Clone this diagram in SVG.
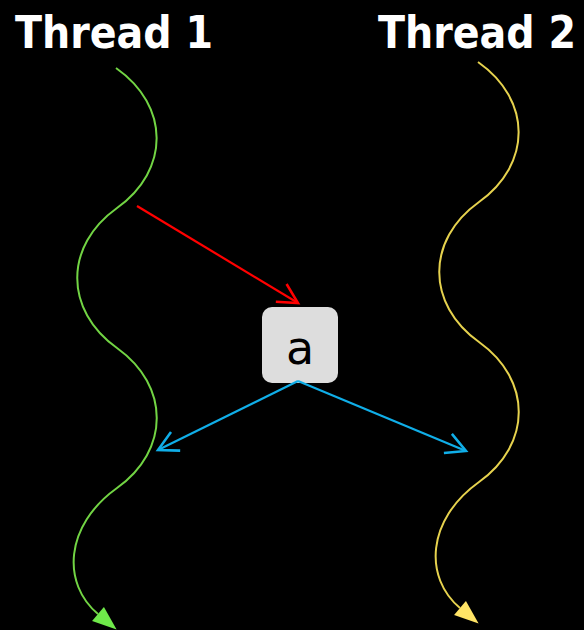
<svg xmlns="http://www.w3.org/2000/svg" width="584" height="630" viewBox="0 0 584 630">
<style>
.title{font-family:"DejaVu Sans Condensed","DejaVu Sans",sans-serif;font-weight:bold;font-size:44px;fill:#ffffff}
.wave{fill:none;stroke-width:2}
.conn{fill:none;stroke-width:2.2}
</style>
<defs>
<marker id="triG" markerUnits="userSpaceOnUse" markerWidth="30" markerHeight="30" viewBox="-2 -12 26 24" refX="0" refY="0" orient="auto">
<path d="M0,-8 L21,0 L0,8 Z" fill="#6fe84a"/>
</marker>
<marker id="triY" markerUnits="userSpaceOnUse" markerWidth="30" markerHeight="30" viewBox="-2 -12 26 24" refX="0" refY="0" orient="auto">
<path d="M0,-8 L21,0 L0,8 Z" fill="#ffe466"/>
</marker>
<marker id="openR" markerUnits="userSpaceOnUse" markerWidth="30" markerHeight="30" viewBox="-22 -12 26 24" refX="0" refY="0" orient="auto">
<path d="M-17,-9 L0,0 L-17,9" fill="none" stroke="#ff0000" stroke-width="2.2"/>
</marker>
<marker id="openB" markerUnits="userSpaceOnUse" markerWidth="30" markerHeight="30" viewBox="-22 -12 26 24" refX="0" refY="0" orient="auto">
<path d="M-17,-9 L0,0 L-17,9" fill="none" stroke="#10aee8" stroke-width="2.2"/>
</marker>
</defs>
<rect width="584" height="630" fill="#000000"/>
<g id="thread1">
<text class="title" x="15" y="48">Thread 1</text>
<path class="wave" stroke="#72d444" marker-end="url(#triG)" d="M116,68 C170,106 170,170 117,208 C64,246 64,310 117,348 C170,386 170,450 117,488 C64,526 62,584 98,614"/>
</g>
<g id="thread2">
<text class="title" x="378" y="48">Thread 2</text>
<path class="wave" stroke="#e6d24e" marker-end="url(#triY)" d="M478,62 C532,100 532,164 479,202 C426,240 426,304 479,342 C532,380 532,444 479,482 C426,520 424,578 460,608"/>
</g>
<g id="a">
<rect x="262" y="307" width="76" height="76" rx="10" ry="10" fill="#dddddd"/>
<text x="300" y="364" text-anchor="middle" font-family="DejaVu Sans, sans-serif" font-size="46" fill="#000000">a</text>
</g>
<g id="connectors">
<path class="conn" stroke="#ff0000" marker-end="url(#openR)" d="M137,206 L298,303"/>
<path class="conn" stroke="#10aee8" marker-end="url(#openB)" d="M298,381 L158,450"/>
<path class="conn" stroke="#10aee8" marker-end="url(#openB)" d="M298,381 L466,451"/>
</g>
</svg>
